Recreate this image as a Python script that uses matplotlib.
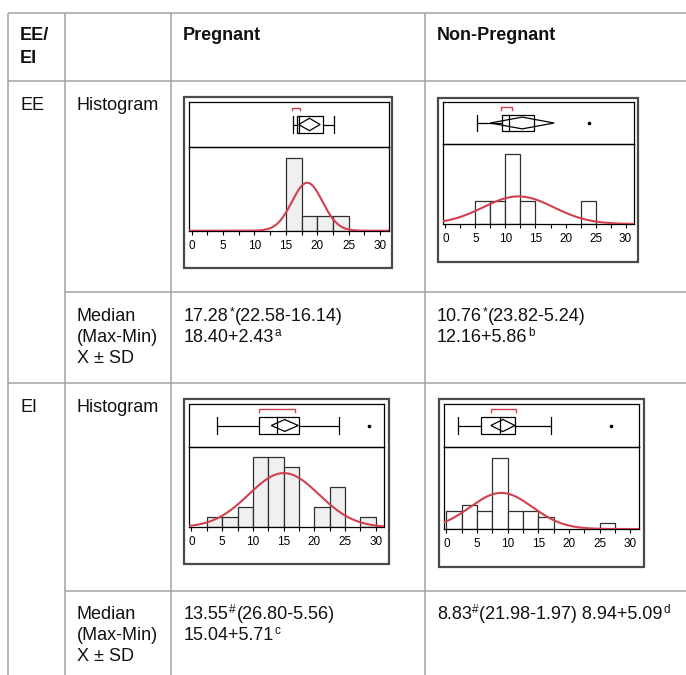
import numpy as np
import matplotlib
matplotlib.use("Agg")
import matplotlib.pyplot as plt
from matplotlib.patches import Rectangle, Polygon

plt.rcParams['font.family'] = ['Liberation Sans', 'DejaVu Sans']

# ---------------- data ----------------
bin_edges = [0, 2.5, 5, 7.5, 10, 12.5, 15, 17.5, 20, 22.5, 25, 27.5, 30]
counts_ee_preg = [0, 0, 0, 0, 0, 0, 5, 1, 1, 1, 0, 0]
counts_ee_non = [0, 0, 1, 1, 3, 1, 0, 0, 0, 1, 0, 0]
counts_ei_preg = [0, 1, 1, 2, 7, 7, 6, 0, 2, 4, 0, 1]
counts_ei_non = [3, 4, 3, 12, 3, 3, 2, 0, 0, 0, 1, 0]

mean_sd = {'ee_preg': (18.40, 2.43), 'ee_non': (12.16, 5.86),
           'ei_preg': (15.04, 5.71), 'ei_non': (8.94, 5.09)}

# box summaries: q1, median, q3, whisker lo, whisker hi
box_ee_preg = [16.83, 17.05, 20.97, 16.09, 22.67]
box_ee_non = [9.41, 10.63, 14.78, 5.20, 14.78]
box_ei_preg = [11.06, 13.98, 17.54, 4.10, 24.07]
box_ei_non = [5.66, 8.71, 11.16, 1.96, 17.09]
outliers_ee_preg = []
outliers_ee_non = [23.9]
outliers_ei_preg = [28.87]
outliers_ei_non = [26.78]
diamond_ee_preg = [17.05, 20.45]
diamond_ee_non = [7.47, 18.10]
diamond_ei_preg = [13.00, 17.38]
diamond_ei_non = [7.24, 11.16]
shorth_ee_preg = [16.04, 17.26]
shorth_ee_non = [9.30, 11.07]
shorth_ei_preg = [11.06, 16.78]
shorth_ei_non = [7.24, 11.38]
xticks = [0, 5, 10, 15, 20, 25, 30]

header = ["EE/\nEI", "", "Pregnant", "Non-Pregnant"]
row_groups = ["EE", "EI"]

W, H = 686, 675
fig = plt.figure(figsize=(W / 100, H / 100), dpi=100)
ax0 = fig.add_axes([0, 0, 1, 1])
ax0.set_xlim(0, W)
ax0.set_ylim(H, 0)
ax0.axis('off')

GRID = '#a3a3a3'
LW = 1.1
TXT = '#111111'
FS = 13


def hline(y, x0, x1):
    ax0.plot([x0, x1], [y, y], color=GRID, lw=LW, solid_capstyle='butt')


def vline(x, y0, y1):
    ax0.plot([x, x], [y0, y1], color=GRID, lw=LW, solid_capstyle='butt')


# table grid
for x in [8, 65, 171, 425]:
    vline(x, 13, H)
hline(13, 8, W)
hline(81, 8, W)
hline(292, 65, W)
hline(383, 8, W)
hline(591, 65, W)

# header text
ax0.text(20, 40, "EE/", fontsize=FS, fontweight='bold', color=TXT, va='baseline')
ax0.text(20, 63.3, "EI", fontsize=FS, fontweight='bold', color=TXT, va='baseline')
ax0.text(183, 40, header[2], fontsize=FS, fontweight='bold', color=TXT, va='baseline')
ax0.text(437, 40, header[3], fontsize=FS, fontweight='bold', color=TXT, va='baseline')

ax0.text(20, 110, row_groups[0], fontsize=FS, color=TXT, va='baseline')
ax0.text(76.7, 110, "Histogram", fontsize=FS, color=TXT, va='baseline')
ax0.text(20, 411.7, row_groups[1], fontsize=FS, color=TXT, va='baseline')
ax0.text(76.7, 411.7, "Histogram", fontsize=FS, color=TXT, va='baseline')

for yb in [321, 619.3]:
    ax0.text(76.7, yb, "Median", fontsize=FS, color=TXT, va='baseline')
    ax0.text(76.7, yb + 21, "(Max-Min)", fontsize=FS, color=TXT, va='baseline')
    ax0.text(76.7, yb + 42, "X ± SD", fontsize=FS, color=TXT, va='baseline')

renderer = fig.canvas.get_renderer()


def rich(x, y, parts):
    cx = x
    for s, sup in parts:
        if sup:
            t = ax0.text(cx + 0.5, y - 6, s, fontsize=8.5, color=TXT, va='baseline')
        else:
            t = ax0.text(cx, y, s, fontsize=FS, color=TXT, va='baseline')
        bb = t.get_window_extent(renderer)
        cx = bb.x1 + (0.5 if sup else 0)


rich(184, 321, [("17.28", False), ("*", True), ("(22.58-16.14)", False)])
rich(184, 342, [("18.40+2.43", False), ("a", True)])
rich(437, 321, [("10.76", False), ("*", True), ("(23.82-5.24)", False)])
rich(437, 342, [("12.16+5.86", False), ("b", True)])
rich(184, 619.3, [("13.55", False), ("#", True), ("(26.80-5.56)", False)])
rich(184, 640.3, [("15.04+5.71", False), ("c", True)])
rich(437, 619.3, [("8.83", False), ("#", True), ("(21.98-1.97) 8.94+5.09", False), ("d", True)])


def frac(x0, y0, x1, y1):
    return [x0 / W, 1 - y1 / H, (x1 - x0) / W, (y1 - y0) / H]


RED = '#d2404f'


def panel(frame, plot_x, top, divider, base, counts, ms, box, outl, diamond, shorth, fill):
    fx0, fy0, fx1, fy1 = frame
    ax0.add_patch(Rectangle((fx0, fy0), fx1 - fx0, fy1 - fy0, fill=False,
                            edgecolor='#4a4a4a', lw=1.6))
    px0, px1 = plot_x
    axb = fig.add_axes(frac(px0, top, px1, divider))
    axh = fig.add_axes(frac(px0, divider, px1, base))
    for a in (axb, axh):
        a.set_xlim(-0.4, 31.4)
        a.patch.set_alpha(0)
        for s in a.spines.values():
            s.set_linewidth(0.9)
            s.set_color('black')
    axb.set_ylim(0, 1)
    axb.set_xticks([])
    axb.set_yticks([])
    # histogram
    c = np.array(counts, dtype=float)
    e = np.array(bin_edges, dtype=float)
    for i in range(len(c)):
        if c[i] > 0:
            axh.bar(e[i], c[i], width=e[i + 1] - e[i], align='edge',
                    facecolor=fill, edgecolor='#303030', lw=0.9, zorder=2)
    n = c.sum()
    mu, sd = ms
    xs = np.linspace(-0.4, 31.4, 400)
    ys = n * 2.5 / (sd * np.sqrt(2 * np.pi)) * np.exp(-0.5 * ((xs - mu) / sd) ** 2)
    axh.plot(xs, ys, color=RED, lw=1.5, zorder=3, clip_on=True)
    axh.set_ylim(0, c.max() * 1.15)
    axh.set_yticks([])
    axh.set_xticks(xticks)
    axh.set_xticks(np.arange(0, 31, 2.5), minor=True)
    axh.tick_params(axis='x', which='both', direction='out', length=3, width=0.8,
                    labelsize=8.5, pad=3.5, colors='black')
    # box plot
    q1, med, q3, wlo, whi = box
    yc, hh = 0.5, 0.2
    axb.add_patch(Rectangle((q1, yc - hh), q3 - q1, 2 * hh, fill=False, edgecolor='black', lw=0.9))
    axb.plot([med, med], [yc - hh, yc + hh], color='black', lw=0.9)
    if wlo < q1:
        axb.plot([wlo, q1], [yc, yc], color='black', lw=0.9)
        axb.plot([wlo, wlo], [yc - hh, yc + hh], color='black', lw=0.9)
    if whi > q3:
        axb.plot([q3, whi], [yc, yc], color='black', lw=0.9)
        axb.plot([whi, whi], [yc - hh, yc + hh], color='black', lw=0.9)
    dlo, dhi = diamond
    dm = (dlo + dhi) / 2
    dh = 0.14
    axb.add_patch(Polygon([[dlo, yc], [dm, yc + dh], [dhi, yc], [dm, yc - dh]],
                          closed=True, fill=False, edgecolor='black', lw=0.9))
    for o in outl:
        axb.plot([o], [yc], marker='o', ms=1.6, color='black', ls='none')
    slo, shi = shorth
    axb.plot([slo, slo, shi, shi], [0.82, 0.88, 0.88, 0.82], color=RED, lw=1.0)


panel((184.3, 96.7, 392.3, 268.3), (189, 389), 102.3, 146.7, 230.7,
      counts_ee_preg, mean_sd['ee_preg'], box_ee_preg, outliers_ee_preg,
      diamond_ee_preg, shorth_ee_preg, '#f0f0f0')
panel((438, 97.7, 638, 262), (443, 634), 102, 144, 224,
      counts_ee_non, mean_sd['ee_non'], box_ee_non, outliers_ee_non,
      diamond_ee_non, shorth_ee_non, 'white')
panel((184.3, 399.3, 389.3, 564), (189, 384.3), 404.3, 446.7, 527.3,
      counts_ei_preg, mean_sd['ei_preg'], box_ei_preg, outliers_ei_preg,
      diamond_ei_preg, shorth_ei_preg, '#f0f0f0')
panel((439.3, 399.3, 644.3, 567), (444, 639), 404, 447, 529,
      counts_ei_non, mean_sd['ei_non'], box_ei_non, outliers_ei_non,
      diamond_ei_non, shorth_ei_non, 'white')

fig.savefig('out.png', dpi=100)
